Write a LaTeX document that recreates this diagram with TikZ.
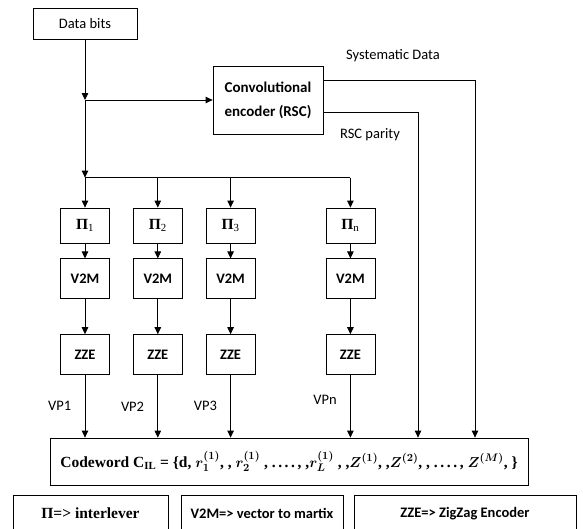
\documentclass[tikz,border=0pt]{standalone}
\usepackage{amsmath}
\usepackage{fontspec}
\setmainfont{Carlito}
\newfontfamily\timesfont{Liberation Serif}
\usetikzlibrary{positioning}
\usetikzlibrary{arrows.meta}

\begin{document}
\begin{tikzpicture}[
x=1pt, y=-1pt,
line width=0.8pt,
every node/.style={font=\fontsize{14.5}{17}\selectfont},
myblock/.style={draw, minimum width=49pt, minimum height=40pt, inner sep=0pt},
piblock/.style={myblock, minimum height=35pt, font=\fontsize{15.5}{17}\selectfont\timesfont\bfseries},
boldblock/.style={myblock, font=\fontsize{14.5}{17}\selectfont\bfseries},
legend/.style={draw, minimum height=37pt, inner sep=0pt},
edge/.style={-{Triangle[length=7pt,width=6.5pt]}}
]
\useasboundingbox (0,0) rectangle (583,528);

%Nodes
\node[draw, minimum width=104pt, minimum height=31pt] (data) at (85,23.5) {Data bits};
\node[draw, align=center, minimum width=110pt, minimum height=68pt,
      font=\fontsize{15}{24}\selectfont\bfseries] (rsc) at (268,100) {Convolutional\\encoder (RSC)};
\node (sysl) at (393,56) {Systematic Data};
\node (rscl) at (370,135) {RSC parity};

\node[piblock]          (pi1)      at (85,225.5)         {Π\textsubscript{\mdseries 1}};
\node[piblock]          (pi2)      [right=23pt of pi1]   {Π\textsubscript{\mdseries 2}};
\node[piblock]          (pi3)      [right=23pt of pi2]   {Π\textsubscript{\mdseries 3}};
\node[piblock]          (pin)      [right=70pt of pi3]   {Π\textsubscript{\mdseries n}};

\node[boldblock]        (vm1)      [below=15pt of pi1]   {V2M};
\node[boldblock]        (vm2)      [below=15pt of pi2]   {V2M};
\node[boldblock]        (vm3)      [below=15pt of pi3]   {V2M};
\node[boldblock]        (vmn)      [below=15pt of pin]   {V2M};

\node[boldblock]        (zze1)     [below=35pt of vm1]   {ZZE};
\node[boldblock]        (zze2)     [below=35pt of vm2]   {ZZE};
\node[boldblock]        (zze3)     [below=35pt of vm3]   {ZZE};
\node[boldblock]        (zzen)     [below=35pt of vmn]   {ZZE};

\node[draw, minimum width=478pt, minimum height=47pt,
      font=\fontsize{15.5}{17}\selectfont\timesfont\bfseries\boldmath] (code) at (289,461.5)
      {Codeword C\textsubscript{IL} = \{d, $r_1^{(1)}$, , $r_2^{(1)}$ , .\,.\,.\,.\,, ,$r_L^{(1)}$ , ,$Z^{(1)}$, ,$Z^{(2)}$, , .\,.\,.\,.\,, $Z^{(M)}$, \}};

% legend at the bottom, cut by the page edge
\node[legend, minimum width=155pt, font=\fontsize{15.5}{17}\selectfont\timesfont\bfseries] (leg1) at (90.5,513.5) {Π=> interlever};
\node[legend, minimum width=162pt, font=\fontsize{14.5}{17}\selectfont\bfseries] (leg2) at (262,513.5) {V2M=> vector to martix};
\node[legend, minimum width=222pt, font=\fontsize{14.5}{17}\selectfont\bfseries] (leg3) at (465,513.5) {ZZE=> ZigZag Encoder};

\coordinate (j1) at (data.south |- rsc.west);
\coordinate (j2) at ([yshift=30pt]pi1.north);

%Lines
\draw[edge] (data.south) -- (j1);
\draw[edge] (j1) -- (rsc.west);
\draw[edge] (j1) -- (j2);
\draw (j2) -- (j2 -| pin.north);

\draw[edge] (j2) -- (pi1.north);
\draw[edge] (j2 -| pi2.north) -- (pi2.north);
\draw[edge] (j2 -| pi3.north) -- (pi3.north);
\draw[edge] (j2 -| pin.north) -- (pin.north);

\draw[edge] (pi1) -- (vm1);
\draw[edge] (pi2) -- (vm2);
\draw[edge] (pi3) -- (vm3);
\draw[edge] (pin) -- (vmn);

\draw[edge] (vm1) -- (zze1);
\draw[edge] (vm2) -- (zze2);
\draw[edge] (vm3) -- (zze3);
\draw[edge] (vmn) -- (zzen);

\draw[edge] (zze1.south) -- (zze1.south |- code.north) node[midway, left=10pt] {VP1};
\draw[edge] (zze2.south) -- (zze2.south |- code.north) node[midway, left=10pt] {VP2};
\draw[edge] (zze3.south) -- (zze3.south |- code.north) node[midway, left=10pt] {VP3};
\draw[edge] (zzen.south) -- (zzen.south |- code.north) node[pos=0.4, left=10pt] {VPn};

\draw[edge] ([yshift=20pt]rsc.east) -| ([xshift=186pt]code.north);
\draw[edge] ([yshift=-12pt]rsc.east) -| ([xshift=129pt]code.north);

\end{tikzpicture}
\end{document}
